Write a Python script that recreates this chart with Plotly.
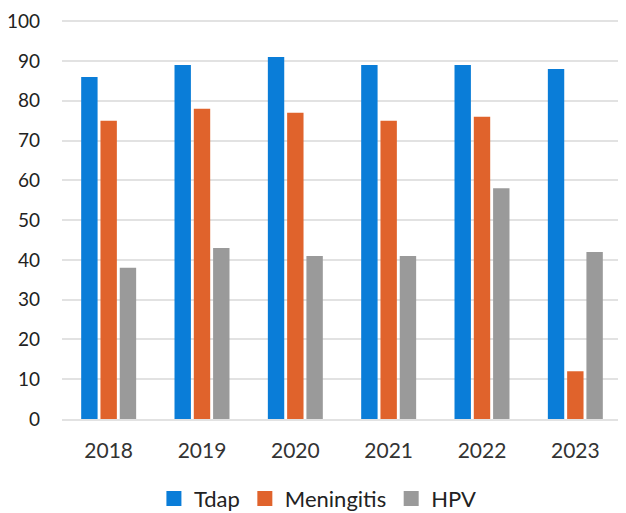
import plotly.graph_objects as go

years = ["2018", "2019", "2020", "2021", "2022", "2023"]
tdap = [86, 89, 91, 89, 89, 88]
meningitis = [75, 78, 77, 75, 76, 12]
hpv = [38, 43, 41, 41, 58, 42]
y_ticks = [0, 10, 20, 30, 40, 50, 60, 70, 80, 90, 100]
series = [("Tdap", tdap), ("Meningitis", meningitis), ("HPV", hpv)]

colors = {"Tdap": "#0A7DD8", "Meningitis": "#E0632C", "HPV": "#9A9A9A"}

fig = go.Figure()
for name, vals in series:
    fig.add_trace(go.Bar(x=years, y=vals, name=name, marker_color=colors[name],
                         marker_line_width=0, showlegend=False))
# legend entries with larger square swatches
for name, vals in series:
    fig.add_trace(go.Scatter(x=[None], y=[None], mode="markers", name=name,
                             marker=dict(symbol="square", size=15, color=colors[name]),
                             showlegend=True))

# page body has an 8px margin, so the figure is sized to the visible area
fig.update_layout(
    width=618, height=505,
    margin=dict(l=54, r=4, t=12, b=94, autoexpand=False),
    paper_bgcolor="white", plot_bgcolor="white",
    font=dict(family="Lato, Carlito, sans-serif", size=20, color="#222"),
    barmode="group", bargap=0.38, bargroupgap=0.15,
    showlegend=True,
    legend=dict(orientation="h", x=0.457, xanchor="center", y=-0.2, yanchor="middle",
                font=dict(size=22, color="#222"), itemwidth=30, traceorder="normal"),
)
fig.update_yaxes(range=[0, 100.3], tickvals=y_ticks, showgrid=True, gridcolor="#E2E2E2",
                 gridwidth=1.5, zeroline=False, showline=False, ticks="", automargin=False,
                 ticklabelstandoff=21, tickfont=dict(size=19, color="#222"))
fig.update_xaxes(showline=True, linecolor="#E2E2E2", linewidth=1.5, ticks="", automargin=False,
                 ticklabelstandoff=12, tickfont=dict(size=21, color="#333"))

fig.write_html("out.html")
